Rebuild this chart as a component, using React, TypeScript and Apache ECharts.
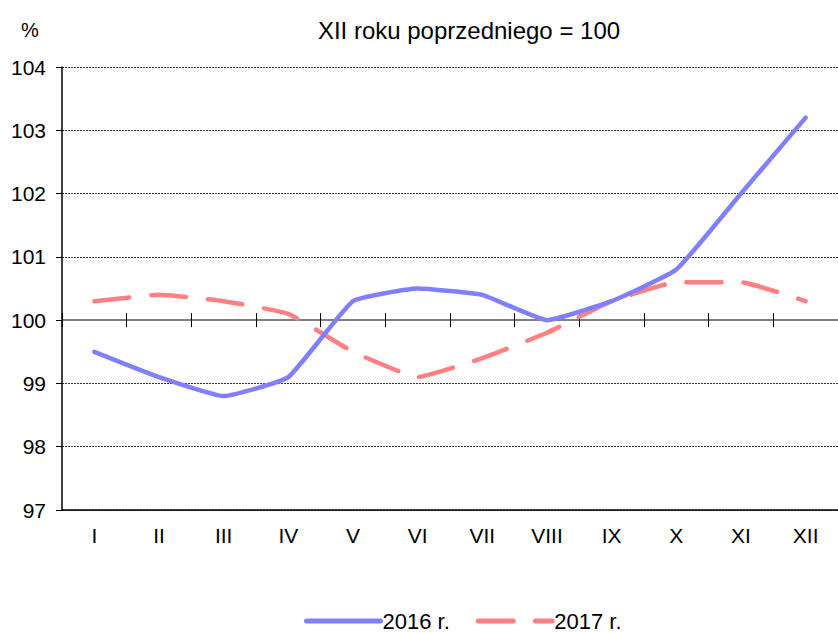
import React, { useEffect, useRef } from "react";
import * as echarts from "echarts";

const categories = ["I", "II", "III", "IV", "V", "VI", "VII", "VIII", "IX", "X", "XI", "XII"];
const series2016 = [99.5, 99.1, 98.8, 99.1, 100.3, 100.5, 100.4, 100.0, 100.3, 100.8, 102.0, 103.2];
const series2017 = [100.3, 100.4, 100.3, 100.1, 99.5, 99.1, 99.4, 99.8, 100.3, 100.6, 100.6, 100.3];
const yMin = 97;
const yMax = 104;
const baseValue = 100;

const FONT = "Liberation Sans, Arial, sans-serif";

export default function App() {
  const ref = useRef<HTMLDivElement>(null);
  useEffect(() => {
    if (!ref.current) return;
    const chart = echarts.init(ref.current, null, { renderer: "svg" });
    const gridTop = 67;
    const gridBottom = 633 - 510;
    const plotH = 633 - gridTop - gridBottom;
    const baseOffset = -((baseValue - yMin) / (yMax - yMin)) * plotH;
    const common = {
      type: "category" as const,
      data: categories,
      boundaryGap: true,
    };
    chart.setOption({
      animation: false,
      textStyle: { fontFamily: FONT },
      title: {
        text: "XII roku poprzedniego = 100",
        left: 464,
        textAlign: "center",
        top: 13,
        textStyle: { fontFamily: FONT, fontSize: 24, fontWeight: "normal", color: "#000" },
      },
      graphic: [
        {
          type: "text",
          left: 21,
          top: 20,
          style: { text: "%", font: `20px ${FONT}`, fill: "#000" },
        },
      ],
      legend: {
        top: 610,
        left: 304,
        itemWidth: 74,
        itemHeight: 6,
        itemGap: 26,
        padding: 0,
        textStyle: { fontFamily: FONT, fontSize: 22, color: "#000", padding: [0, 0, 0, -3] },
        itemStyle: { opacity: 0 },
        lineStyle: { width: 5 },
        data: ["2016 r.", "2017 r."],
      },
      grid: { left: 62, right: -10, top: gridTop, bottom: gridBottom, containLabel: false },
      xAxis: [
        {
          ...common,
          position: "bottom",
          axisLine: { show: true, lineStyle: { color: "#000", width: 1.5 } },
          axisTick: { show: false },
          axisLabel: { show: true, color: "#000", fontSize: 21, fontFamily: FONT, margin: 15 },
          splitLine: { show: false },
        },
        {
          ...common,
          position: "bottom",
          offset: baseOffset,
          axisLine: { show: true, lineStyle: { color: "#808080", width: 2 } },
          axisTick: { show: true, inside: false, length: 7, lineStyle: { color: "#000", width: 1 } },
          axisLabel: { show: false },
          splitLine: { show: false },
        },
        {
          ...common,
          position: "bottom",
          offset: baseOffset,
          axisLine: { show: false },
          axisTick: { show: true, inside: true, length: 7, lineStyle: { color: "#000", width: 1 } },
          axisLabel: { show: false },
          splitLine: { show: false },
        },
      ],
      yAxis: {
        type: "value",
        min: yMin,
        max: yMax,
        interval: 1,
        axisLine: { show: true, lineStyle: { color: "#000", width: 1.5 } },
        axisTick: { show: true, length: 6, lineStyle: { color: "#000" } },
        axisLabel: { color: "#000", fontSize: 21, fontFamily: FONT, margin: 16 },
        splitLine: { show: true, lineStyle: { color: "#333", type: [2, 1], width: 1 } },
      },
      series: [
        {
          name: "2016 r.",
          type: "line",
          data: series2016,
          xAxisIndex: 0,
          smooth: 0.12,
          showSymbol: false,
          symbol: "none",
          lineStyle: { color: "#8080FF", width: 4.5, cap: "round", join: "round" },
          itemStyle: { color: "#8080FF" },
          z: 3,
        },
        {
          name: "2017 r.",
          type: "line",
          data: series2017,
          xAxisIndex: 0,
          smooth: 0.12,
          showSymbol: false,
          symbol: "none",
          lineStyle: { color: "#FF8080", width: 4.5, type: [35, 22], cap: "round", join: "round" },
          itemStyle: { color: "#FF8080" },
          z: 2,
        },
      ],
    });
    return () => chart.dispose();
  }, []);
  return <div ref={ref} style={{ width: 838, height: 633, position: "absolute", left: 0, top: 0 }} />;
}
